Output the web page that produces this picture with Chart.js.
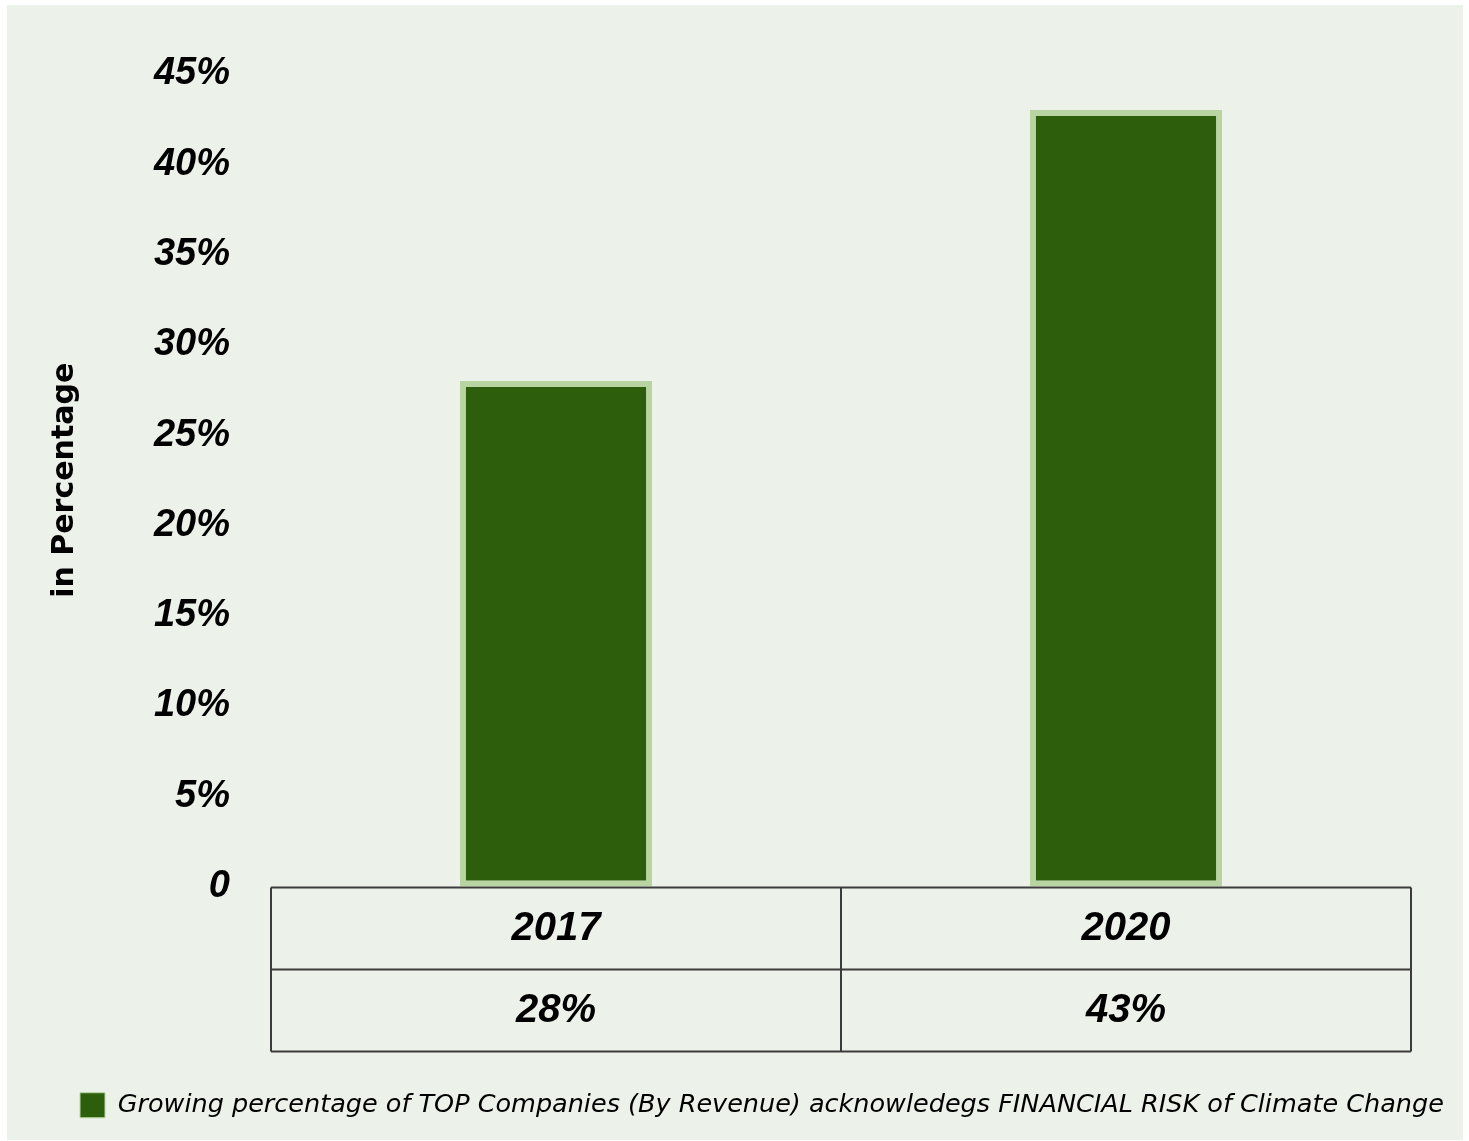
<!DOCTYPE html>
<html>
<head>
<meta charset="utf-8">
<title>Financial risk of climate change</title>
<script src="https://cdn.jsdelivr.net/npm/chart.js@4/dist/chart.umd.min.js"></script>
<style>
    body { margin: 0; background: #ffffff; }
    canvas { display: block; }
</style>
</head>
<body>
<canvas id="meuGrafico" width="1469" height="1141"></canvas>
<script>
// Dados do gráfico
var anos = ['2017', '2020'];
var percentuais = [28, 43];
var rotulosEixoY = ['0', '5%', '10%', '15%', '20%', '25%', '30%', '35%', '40%', '45%'];
var rotuloSerie = 'Growing percentage of TOP Companies (By Revenue) acknowledegs FINANCIAL RISK of Climate Change';

var corFundo = '#ecf1e9';
var corBarra = '#2d5e0c';
var corBordaBarra = '#b7d4a1';
var corLinhas = '#3b3b3b';

// Pinta a margem branca e o painel verde claro
var fundoPlugin = {
    id: 'fundo',
    beforeDraw: function (chart) {
        var ctx = chart.ctx;
        ctx.save();
        ctx.fillStyle = '#ffffff';
        ctx.fillRect(0, 0, chart.width, chart.height);
        ctx.fillStyle = corFundo;
        ctx.fillRect(7, 5, chart.width - 13, chart.height - 6);
        ctx.restore();
    }
};

// Tabela de dados abaixo do eixo X (ano e valor)
var tabelaPlugin = {
    id: 'tabelaDados',
    afterDraw: function (chart) {
        var ctx = chart.ctx;
        var x = chart.scales.x;
        var area = chart.chartArea;
        var alturaLinha = 82;
        var y0 = area.bottom + 1;
        var y1 = y0 + alturaLinha;
        var y2 = y1 + alturaLinha;

        // limites das colunas
        var limites = [area.left];
        for (var i = 0; i < anos.length - 1; i++) {
            limites.push((x.getPixelForValue(i) + x.getPixelForValue(i + 1)) / 2);
        }
        limites.push(area.right);

        ctx.save();
        ctx.strokeStyle = corLinhas;
        ctx.lineWidth = 2;
        ctx.beginPath();
        [y0, y1, y2].forEach(function (y) {
            ctx.moveTo(area.left, y);
            ctx.lineTo(area.right, y);
        });
        limites.forEach(function (lx) {
            ctx.moveTo(lx, y0);
            ctx.lineTo(lx, y2);
        });
        ctx.stroke();

        ctx.fillStyle = '#000000';
        ctx.font = 'italic bold 40px "Liberation Sans", Arial, sans-serif';
        ctx.textAlign = 'center';
        ctx.textBaseline = 'middle';
        anos.forEach(function (ano, i) {
            var cx = x.getPixelForValue(i);
            ctx.fillText(ano, cx, (y0 + y1) / 2);
            ctx.fillText(percentuais[i] + '%', cx, (y1 + y2) / 2);
        });
        ctx.restore();
    }
};

function criarGrafico() {
    var ctx = document.getElementById('meuGrafico').getContext('2d');

    new Chart(ctx, {
        type: 'bar',
        data: {
            labels: anos,
            datasets: [{
                label: rotuloSerie,
                data: percentuais,
                backgroundColor: corBarra,
                borderColor: corBordaBarra,
                borderWidth: 6,
                borderSkipped: false,
                categoryPercentage: 1,
                barPercentage: 0.337
            }]
        },
        options: {
            responsive: false,
            animation: false,
            layout: {
                padding: { top: 74, left: 10, right: 6, bottom: 13 }
            },
            scales: {
                x: {
                    grid: { display: false },
                    border: { display: false },
                    ticks: { display: false },
                    afterFit: function (scale) { scale.height = 136; }
                },
                y: {
                    min: 0,
                    max: 45,
                    grid: { display: false },
                    border: { display: false },
                    ticks: {
                        stepSize: 5,
                        padding: 33,
                        color: '#000000',
                        font: { family: '"Liberation Sans", Arial, sans-serif', size: 38, style: 'italic', weight: 'bold' },
                        callback: function (valor, indice) { return rotulosEixoY[indice]; }
                    },
                    title: {
                        display: true,
                        text: 'in Percentage',
                        color: '#000000',
                        padding: { top: 37, bottom: 0 },
                        font: { family: '"DejaVu Sans", sans-serif', size: 30, weight: 'bold' }
                    },
                    afterFit: function (scale) { scale.width = 261; }
                },
                // eixo vazio à direita: só reserva a margem da área do gráfico
                margemDireita: {
                    position: 'right',
                    grid: { display: false },
                    border: { display: false },
                    ticks: { display: false },
                    afterFit: function (scale) { scale.width = 52; }
                }
            },
            plugins: {
                legend: {
                    position: 'bottom',
                    align: 'start',
                    labels: {
                        padding: 70,
                        boxWidth: 25,
                        boxHeight: 25,
                        color: '#000000',
                        font: { family: '"DejaVu Sans", sans-serif', size: 25.5, style: 'italic' },
                        generateLabels: function (chart) {
                            var itens = Chart.defaults.plugins.legend.labels.generateLabels(chart);
                            itens.forEach(function (item) { item.lineWidth = 1; });
                            return itens;
                        }
                    }
                },
                tooltip: { enabled: false }
            }
        },
        plugins: [fundoPlugin, tabelaPlugin]
    });
}

criarGrafico();
</script>
</body>
</html>
